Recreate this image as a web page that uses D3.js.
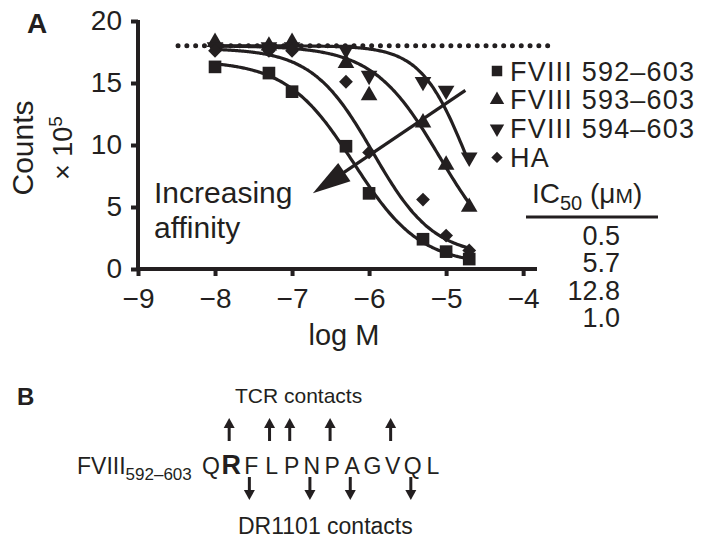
<!DOCTYPE html>
<html>
<head>
<meta charset="utf-8">
<script src="https://cdn.jsdelivr.net/npm/d3@7"></script>
<style>
  body { margin: 0; background: #fff; }
  text { font-family: "Liberation Sans", Arial, Helvetica, sans-serif; fill: #231f20; }
</style>
</head>
<body>
<svg id="chart" width="714" height="548"></svg>
<script>
// ---- data ----
var logConc = [-8, -7.3, -7, -6.3, -6, -5.3, -5, -4.7];
var seriesNames = ["FVIII 592\u2013603", "FVIII 593\u2013603", "FVIII 594\u2013603", "HA"];
var counts592 = [16.3, 15.8, 14.3, 9.9, 6.1, 2.4, 1.4, 0.8];
var counts593 = [18.3, 18.0, 18.3, 16.6, 14.0, 11.8, 8.4, 5.0];
var counts594 = [17.9, 17.9, 17.9, 17.7, 15.6, 15.1, 14.4, 9.0];
var countsHA  = [17.6, 17.6, 17.6, 15.1, 9.4, 5.6, 2.7, 1.5];
var ic50Values = ["0.5", "5.7", "12.8", "1.0"];
var plateau = 18;
var xTicks = [-9, -8, -7, -6, -5, -4];
var yTicks = [0, 5, 10, 15, 20];

// fitted dose-response curves (top, bottom, midpoint, slope) as drawn
var fitTop = [16.8, 18, 18, 17.8];
var fitBottom = [0.3, 0, 0, 1.0];
var fitMid = [-6.2, -5.08, -4.73, -5.95];
var fitHill = [1.0, 1.0, 1.45, 1.1];

// panel B
var sequence = ["Q", "R", "F", "L", "P", "N", "P", "A", "G", "V", "Q", "L"];
var tcrContacts = [1, 3, 4, 6, 9];
var drContacts = [2, 5, 7, 10];

var allCounts = [counts592, counts593, counts594, countsHA];
var ink = "#231f20";

var svg = d3.select("#chart");

var x = d3.scaleLinear().domain([-9, -3.82]).range([138, 537]);
var y = d3.scaleLinear().domain([0, 20]).range([269, 21]);

// axes
var xAxis = svg.append("g")
    .attr("transform", "translate(0," + y(0) + ")")
    .call(d3.axisBottom(x).tickValues(xTicks).tickFormat(d3.format("d"))
      .tickSize(7).tickSizeOuter(0).tickPadding(12));

var yAxis = svg.append("g")
    .attr("transform", "translate(" + x(-9) + ",0)")
    .call(d3.axisLeft(y).tickValues(yTicks).tickFormat(d3.format("d"))
      .tickSize(7).tickSizeOuter(0).tickPadding(9));

[xAxis, yAxis].forEach(function(g) {
  g.attr("font-size", 28).attr("font-family", null);
  g.selectAll("path, line").style("stroke", ink).style("stroke-width", 4);
  g.selectAll("text").style("fill", ink);
});
// stretch the axis lines so they meet in the corner
xAxis.select(".domain").attr("d", "M" + (x(-9) - 2) + ",0H" + x(-3.82));
yAxis.select(".domain").attr("d", "M0," + (y(0) + 2) + "V" + (y(20) - 1));

// axis titles
svg.append("text")
    .attr("transform", "translate(33,148) rotate(-90)")
    .attr("text-anchor", "middle")
    .style("font-size", "30px")
    .text("Counts");
var yl2 = svg.append("text")
    .attr("transform", "translate(72,148) rotate(-90)")
    .attr("text-anchor", "middle")
    .style("font-size", "27px");
yl2.append("tspan").text("\u00d7 10");
yl2.append("tspan").attr("dy", -10).style("font-size", "19px").text("5");

svg.append("text")
    .attr("x", 344).attr("y", 345)
    .attr("text-anchor", "middle")
    .style("font-size", "29px")
    .text("log M");

svg.append("text")
    .attr("x", 27).attr("y", 33)
    .style("font-size", "28px").style("font-weight", "bold")
    .text("A");

// dotted plateau line
svg.append("line")
    .attr("x1", x(-8.48)).attr("x2", x(-3.6))
    .attr("y1", y(plateau)).attr("y2", y(plateau))
    .attr("stroke", ink)
    .attr("stroke-width", 5)
    .attr("stroke-linecap", "round")
    .attr("stroke-dasharray", "0 8.8");

// fitted curves
var curveX = d3.range(-8, -4.699, 0.02);
var line = d3.line()
    .x(function(d) { return x(d[0]); })
    .y(function(d) { return y(d[1]); })
    .curve(d3.curveMonotoneX);

for (var i = 0; i < 4; i++) {
  var pts = curveX.map(function(v) {
    return [v, fitBottom[i] + (fitTop[i] - fitBottom[i]) / (1 + Math.pow(10, (v - fitMid[i]) * fitHill[i]))];
  });
  svg.append("path")
      .attr("d", line(pts))
      .attr("fill", "none")
      .attr("stroke", ink)
      .attr("stroke-width", 3.2);
}

// markers
var symbolTypes = [d3.symbolSquare, d3.symbolTriangle, d3.symbolTriangle, d3.symbolSquare];
var symbolRotate = [0, 0, 180, 45];
var symbolSize = [160, 120, 120, 95];
var legendSize = [110, 90, 90, 65];

allCounts.forEach(function(series, i) {
  svg.append("g")
    .selectAll("path")
    .data(series)
    .enter()
    .append("path")
      .attr("d", d3.symbol().type(symbolTypes[i]).size(symbolSize[i]))
      .attr("transform", function(d, j) {
        return "translate(" + x(logConc[j]) + "," + y(d) + ") rotate(" + symbolRotate[i] + ")";
      })
      .attr("fill", ink);
});

// legend
seriesNames.forEach(function(name, i) {
  var cy = 71 + i * 28.8;
  svg.append("path")
      .attr("d", d3.symbol().type(symbolTypes[i]).size(legendSize[i]))
      .attr("transform", "translate(497," + cy + ") rotate(" + symbolRotate[i] + ")")
      .attr("fill", ink);
  svg.append("text")
      .attr("x", 510).attr("y", cy + 9.5)
      .style("font-size", "27px")
      .style("letter-spacing", "1.2px")
      .text(name);
});

// IC50 table
var hdr = svg.append("text").attr("x", 532).attr("y", 203).style("font-size", "28px");
hdr.append("tspan").text("IC");
hdr.append("tspan").attr("dy", 7).style("font-size", "20px").text("50");
hdr.append("tspan").attr("dy", -7).text(" (\u03bc");
hdr.append("tspan").style("font-size", "21px").text("M");
hdr.append("tspan").text(")");
svg.append("line")
    .attr("x1", 526).attr("x2", 658)
    .attr("y1", 217).attr("y2", 217)
    .attr("stroke", ink).attr("stroke-width", 3);
ic50Values.forEach(function(v, i) {
  svg.append("text")
      .attr("x", 620).attr("y", 245 + i * 27.4)
      .attr("text-anchor", "end")
      .style("font-size", "27px")
      .text(v);
});

// "Increasing affinity" annotation
svg.append("text").attr("x", 154).attr("y", 203).style("font-size", "30px").text("Increasing");
svg.append("text").attr("x", 154).attr("y", 238).style("font-size", "30px").text("affinity");

var a0 = [x(-4.75), y(14.4)], a1 = [x(-6.73), y(6.1)];
var dx = a1[0] - a0[0], dy = a1[1] - a0[1], len = Math.sqrt(dx * dx + dy * dy);
var ux = dx / len, uy = dy / len, headLen = 38, headW = 11;
var base = [a1[0] - ux * headLen, a1[1] - uy * headLen];
svg.append("line")
    .attr("x1", a0[0]).attr("y1", a0[1])
    .attr("x2", base[0] + ux * 4).attr("y2", base[1] + uy * 4)
    .attr("stroke", ink).attr("stroke-width", 3.2);
svg.append("path")
    .attr("d", "M" + a1[0] + "," + a1[1] +
               "L" + (base[0] - uy * headW) + "," + (base[1] + ux * headW) +
               "L" + (base[0] + uy * headW) + "," + (base[1] - ux * headW) + "Z")
    .attr("fill", ink);

// ---- panel B ----
svg.append("text")
    .attr("x", 17).attr("y", 405)
    .style("font-size", "24px").style("font-weight", "bold")
    .text("B");

var seqX = d3.scalePoint().domain(d3.range(sequence.length)).range([211, 433]);
var seqY = 474;

var lab = svg.append("text").attr("x", 77).attr("y", seqY).style("font-size", "23px");
lab.append("tspan").text("FVIII");
lab.append("tspan").attr("dy", 6).style("font-size", "17px").text("592\u2013603");

svg.append("g")
  .selectAll("text")
  .data(sequence)
  .enter()
  .append("text")
    .attr("x", function(d, i) { return seqX(i); })
    .attr("y", seqY)
    .attr("text-anchor", "middle")
    .style("font-size", function(d, i) { return i === 1 ? "27px" : "23px"; })
    .style("font-weight", function(d, i) { return i === 1 ? "bold" : "normal"; })
    .text(function(d) { return d; });

function vArrow(cx, yFrom, yTo) {
  var dir = yTo > yFrom ? 1 : -1;
  svg.append("line")
      .attr("x1", cx).attr("x2", cx)
      .attr("y1", yFrom).attr("y2", yTo - dir * 6)
      .attr("stroke", ink).attr("stroke-width", 3);
  svg.append("path")
      .attr("d", "M" + cx + "," + yTo + "L" + (cx - 5.5) + "," + (yTo - dir * 10) + "L" + (cx + 5.5) + "," + (yTo - dir * 10) + "Z")
      .attr("fill", ink);
}
tcrContacts.forEach(function(k) { vArrow(seqX(k) - 2, 441, 418); });
drContacts.forEach(function(k) { vArrow(seqX(k) - 2, 477, 500); });

svg.append("text").attr("x", 235).attr("y", 403).style("font-size", "21px").text("TCR contacts");
svg.append("text").attr("x", 238).attr("y", 534).style("font-size", "23px").text("DR1101 contacts");
</script>
</body>
</html>
